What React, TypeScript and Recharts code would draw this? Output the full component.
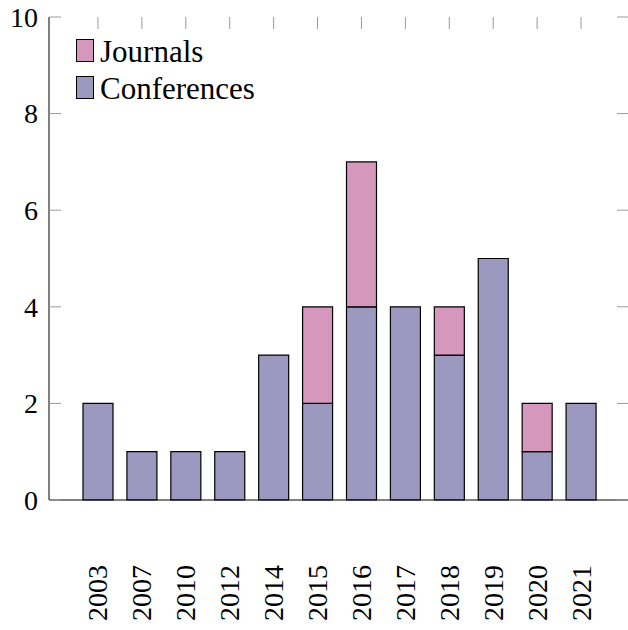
import { BarChart, Bar, XAxis, YAxis } from "recharts"

const YEARS = ["2003", "2007", "2010", "2012", "2014", "2015", "2016", "2017", "2018", "2019", "2020", "2021"]
const CONFERENCES = [2, 1, 1, 1, 3, 2, 4, 4, 3, 5, 1, 2]
const JOURNALS = [0, 0, 0, 0, 0, 2, 3, 0, 1, 0, 1, 0]
const Y_TICKS = [0, 2, 4, 6, 8, 10]

const CONF_COLOR = "#9c99c0"
const JOUR_COLOR = "#d697bd"
const TICK_GRAY = "#9a9a9a"
const FONT = 'Tinos, "Times New Roman", "Liberation Serif", monospace'

const data = YEARS.map((year, i) => ({
  year,
  conferences: CONFERENCES[i],
  journals: JOURNALS[i],
}))

// year label under the plot plus the matching tick on the top border
function YearTick(props: any) {
  const { x, payload } = props
  return (
    <g>
      <line x1={x} x2={x} y1={17} y2={29} stroke={TICK_GRAY} strokeWidth={1} />
      <text
        transform={`translate(${x}, 565) rotate(-90)`}
        textAnchor="end"
        dy="0.34em"
        fontFamily={FONT}
        fontSize={28}
        fill="#000"
      >
        {payload.value}
      </text>
    </g>
  )
}

// left label + inward ticks on both the left and right borders
function LeftTick(props: any) {
  const { y, payload } = props
  return (
    <g>
      <line x1={49} x2={61} y1={y} y2={y} stroke={TICK_GRAY} strokeWidth={1} />
      <line x1={617} x2={630} y1={y} y2={y} stroke={TICK_GRAY} strokeWidth={1} />
      <text x={38} y={y} dy="0.35em" textAnchor="end" fontFamily={FONT} fontSize={28} fill="#000">
        {payload.value}
      </text>
    </g>
  )
}

function LegendBox() {
  const rows = [
    { label: "Journals", color: JOUR_COLOR, top: 39 },
    { label: "Conferences", color: CONF_COLOR, top: 76 },
  ]
  return (
    <>
      {rows.map((r) => (
        <div key={r.label} style={{ position: "absolute", left: 76, top: r.top, display: "flex", alignItems: "center" }}>
          <div style={{ width: 18, height: 23, background: r.color, border: "1px solid #000", boxSizing: "border-box" }} />
          <span style={{ fontFamily: FONT, fontSize: 31, marginLeft: 6, lineHeight: "23px", position: "relative", top: 1 }}>
            {r.label}
          </span>
        </div>
      ))}
    </>
  )
}

export default function App() {
  return (
    <div style={{ position: "absolute", left: 0, top: 0, width: 628, height: 630, overflow: "hidden", background: "#fff", fontFamily: FONT }}>
      <BarChart width={642} height={630} data={data} margin={{ top: 17, right: 12, left: 0, bottom: 0 }} barSize={30}>
        <XAxis
          dataKey="year"
          height={130}
          padding={{ left: 27, right: 27 }}
          axisLine={{ stroke: "#000", strokeWidth: 1 }}
          tickLine={false}
          tick={<YearTick />}
          interval={0}
        />
        <XAxis
          xAxisId="top"
          orientation="top"
          dataKey="year"
          height={0}
          axisLine={{ stroke: "#000", strokeWidth: 1 }}
          tickLine={false}
          tick={false}
        />
        <YAxis
          width={49}
          domain={[0, 10]}
          ticks={Y_TICKS}
          axisLine={{ stroke: "#000", strokeWidth: 1 }}
          tickLine={false}
          tick={<LeftTick />}
          interval={0}
        />
        <YAxis
          yAxisId="right"
          orientation="right"
          width={0}
          domain={[0, 10]}
          axisLine={{ stroke: "#000", strokeWidth: 1 }}
          tickLine={false}
          tick={false}
        />
        <Bar dataKey="conferences" stackId="a" fill={CONF_COLOR} stroke="#000" strokeWidth={1.2} isAnimationActive={false} />
        <Bar dataKey="journals" stackId="a" fill={JOUR_COLOR} stroke="#000" strokeWidth={1.2} isAnimationActive={false} />
      </BarChart>
      <LegendBox />
    </div>
  )
}
